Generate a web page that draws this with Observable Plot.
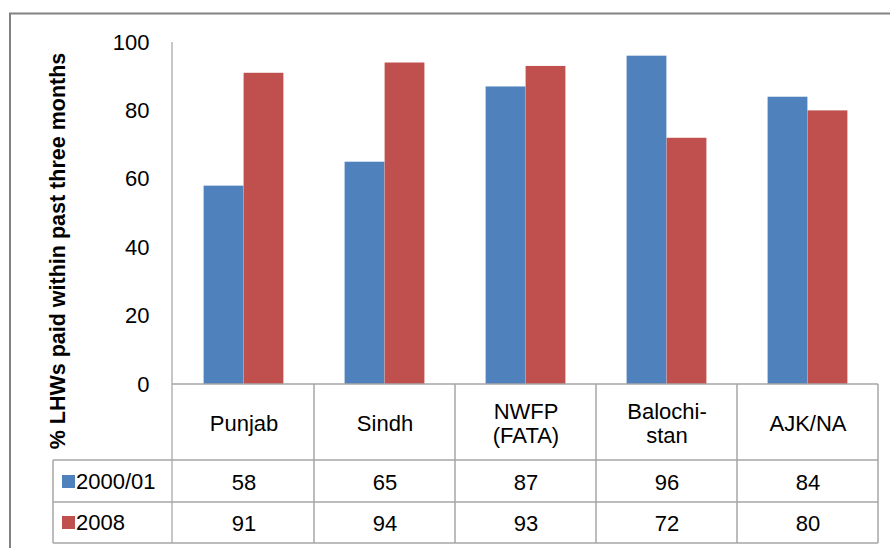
<!DOCTYPE html>
<html><head><meta charset="utf-8">
<script src="https://cdn.jsdelivr.net/npm/d3@7"></script>
<script src="https://cdn.jsdelivr.net/npm/@observablehq/plot@0.6"></script>
<style>
html,body{margin:0;padding:0;background:#fff;}
#chart{position:relative;width:890px;height:548px;overflow:hidden;}
</style></head><body><div id="chart"></div>
<script>
const regions = ["Punjab", "Sindh", "NWFP\n(FATA)", "Balochi-\nstan", "AJK/NA"];
const series = ["2000/01", "2008"];
const values2000 = [58, 65, 87, 96, 84];
const values2008 = [91, 94, 93, 72, 80];
const yTicks = [0, 20, 40, 60, 80, 100];
const colors = ["#4F81BD", "#C0504D"];
const yLabel = "% LHWs paid within past three months";

const rows = regions.map((r, i) => ({region: r, v2000: values2000[i], v2008: values2008[i]}));
const W = 890, H = 548, mL = 172, mR = 12, mT = 42, mB = 164;
const bw = (W - mL - mR) / regions.length;
const barW = 40;
const font = "'Liberation Sans', Arial, sans-serif";
const fs = 22;

const plot = Plot.plot({
  width: W, height: H, marginLeft: mL, marginRight: mR, marginTop: mT, marginBottom: mB,
  style: {fontFamily: font, fontSize: fs + "px", background: "transparent", color: "#000", overflow: "visible"},
  x: {domain: regions, padding: 0, axis: null},
  y: {domain: [0, 100], ticks: yTicks, axis: "left", tickSize: 0, tickPadding: 23, label: null},
  marks: [
    Plot.barY(rows, {x: "region", y: "v2000", fill: colors[0], insetLeft: bw / 2 - barW, insetRight: bw / 2}),
    Plot.barY(rows, {x: "region", y: "v2008", fill: colors[1], insetLeft: bw / 2, insetRight: bw / 2 - barW}),
    Plot.text(rows, {x: "region", text: "region", frameAnchor: "bottom", dy: 39, lineAnchor: "middle", lineHeight: 1.1, fontSize: fs}),
    Plot.text(rows, {x: "region", text: d => String(d.v2000), frameAnchor: "bottom", dy: 98, lineAnchor: "middle", fontSize: fs}),
    Plot.text(rows, {x: "region", text: d => String(d.v2008), frameAnchor: "bottom", dy: 139, lineAnchor: "middle", fontSize: fs})
  ]
});
document.getElementById("chart").appendChild(plot);

const svg = d3.select(plot);
const xs = plot.scale("x");
const ys = plot.scale("y");
const band = xs.bandwidth;
const yTop = ys.apply(100), yBase = ys.apply(0);
const row1 = yBase + 76, row2 = yBase + 118, tBottom = yBase + 159;
const left = mL, right = xs.apply(regions[regions.length - 1]) + band;
const legendLeft = 53;

const g = svg.append("g").attr("stroke", "#a6a6a6").attr("stroke-width", 1.5).attr("fill", "none");
g.append("line").attr("x1", left).attr("x2", left).attr("y1", yTop).attr("y2", tBottom).attr("stroke", "#b4b4b4");
g.append("line").attr("x1", left).attr("x2", right).attr("y1", yBase).attr("y2", yBase);
[row1, row2, tBottom].forEach(y => g.append("line").attr("x1", legendLeft).attr("x2", right).attr("y1", y).attr("y2", y));
regions.forEach(r => {
  const x = xs.apply(r) + band;
  g.append("line").attr("x1", x).attr("x2", x).attr("y1", yBase).attr("y2", tBottom);
});
g.append("line").attr("x1", legendLeft).attr("x2", legendLeft).attr("y1", row1).attr("y2", tBottom);

// legend keys in the data table
series.forEach((s, i) => {
  const yc = (i === 0 ? (yBase + 98) : (yBase + 139));
  svg.append("rect").attr("x", 62).attr("y", yc - 7).attr("width", 13).attr("height", 13).attr("fill", colors[i]);
  svg.append("text").attr("x", 76).attr("y", yc).attr("dy", "0.32em").attr("text-anchor", "start")
    .attr("font-size", fs).attr("font-family", font).text(s);
});

// y label
svg.append("text")
  .attr("transform", `translate(57,251) rotate(-90)`)
  .attr("text-anchor", "middle").attr("dy", "0.35em")
  .attr("font-weight", "bold").attr("font-size", 21.5).attr("font-family", font)
  .text(yLabel);

// outer frame
svg.append("rect").attr("x", 10).attr("y", 13.5).attr("width", 900).attr("height", 600)
  .attr("fill", "none").attr("stroke", "#828282").attr("stroke-width", 2);
</script>
</body></html>
